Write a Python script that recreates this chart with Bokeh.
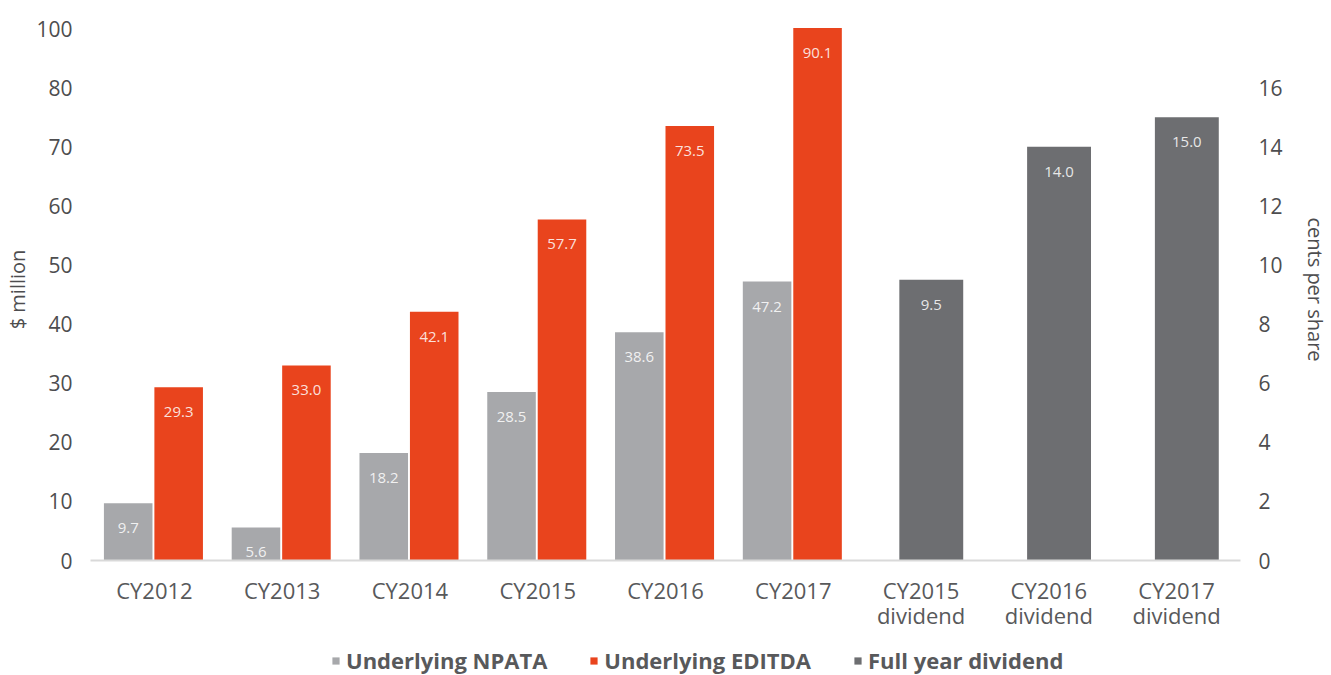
from bokeh.plotting import figure
from bokeh.layouts import column
from bokeh.models import (ColumnDataSource, FactorRange, Range1d, LinearAxis, FixedTicker,
                          Legend, LegendItem)
from bokeh.transform import dodge
from bokeh.core.properties import value
from bokeh.embed import file_html
from bokeh.resources import INLINE

# ---- data ----
years = ["CY2012", "CY2013", "CY2014", "CY2015", "CY2016", "CY2017"]
npata = [9.7, 5.6, 18.2, 28.5, 38.6, 47.2]
ebitda = [29.3, 33.0, 42.1, 57.7, 73.5, 90.1]
div_cats = ["CY2015\ndividend", "CY2016\ndividend", "CY2017\ndividend"]
dividend = [9.5, 14.0, 15.0]
left_ticks = [0, 10, 20, 30, 40, 50, 60, 70, 80, 90]
left_tick_labels = ["0", "10", "20", "30", "40", "50", "60", "70", "80", "100"]
right_ticks = [0, 2, 4, 6, 8, 10, 12, 14, 16]
series_names = ["Underlying NPATA", "Underlying EDITDA", "Full year dividend"]

FONT = "Open Sans"
C_NPATA = "#a7a8ab"
C_EBITDA = "#e9441d"
C_DIV = "#6d6e71"
C_TEXT = "#4d4d4f"

src_y = ColumnDataSource(dict(cat=years, npata=npata, ebitda=ebitda,
                              npata_l=[f"{v:.1f}" for v in npata],
                              ebitda_l=[f"{v:.1f}" for v in ebitda]))
src_d = ColumnDataSource(dict(cat=div_cats, div=dividend,
                              div_l=[f"{v:.1f}" for v in dividend]))

Y_END = 91.7
p = figure(width=1331, height=640, x_range=FactorRange(*(years + div_cats), range_padding=0),
           y_range=Range1d(0, Y_END), output_backend="svg", toolbar_location=None,
           min_border_left=90, min_border_right=83, min_border_top=18, min_border_bottom=80)
p.extra_y_ranges = {"right": Range1d(0, Y_END / 5)}
p.outline_line_color = None
p.grid.visible = False
p.background_fill_color = "white"
p.border_fill_color = "white"

r1 = p.vbar(x=dodge("cat", -0.205, range=p.x_range), top="npata", width=0.38,
            source=src_y, fill_color=C_NPATA, line_color=None)
r2 = p.vbar(x=dodge("cat", 0.19, range=p.x_range), top="ebitda", width=0.38,
            source=src_y, fill_color=C_EBITDA, line_color=None)
r3 = p.vbar(x=dodge("cat", 0.08, range=p.x_range), top="div", width=0.5,
            source=src_d, fill_color=C_DIV, line_color=None, y_range_name="right")

lbl = dict(text_font=value(FONT), text_font_size="15px", text_color="white", text_alpha=0.85,
           text_align="center", text_baseline="middle", y_offset=25)
p.text(x=dodge("cat", -0.205, range=p.x_range), y="npata", text="npata_l", source=src_y, **lbl)
p.text(x=dodge("cat", 0.19, range=p.x_range), y="ebitda", text="ebitda_l", source=src_y, **lbl)
p.text(x=dodge("cat", 0.08, range=p.x_range), y="div", text="div_l", source=src_d,
       y_range_name="right", **lbl)

# axes
xa = p.xaxis[0]
xa.axis_line_color = "#d9d9d9"
xa.axis_line_width = 2
xa.major_tick_line_color = None
xa.minor_tick_line_color = None
xa.major_label_standoff = 8
xa.major_label_text_font = FONT
xa.major_label_text_font_size = "22px"
xa.major_label_text_line_height = 0.85
xa.major_label_text_color = "#58595b"

ya = p.yaxis[0]
ya.ticker = FixedTicker(ticks=left_ticks)
ya.major_label_overrides = {t: s for t, s in zip(left_ticks, left_tick_labels)}
ya.axis_line_color = None
ya.major_tick_line_color = None
ya.minor_tick_line_color = None
ya.major_label_standoff = 12
ya.major_label_text_font = FONT
ya.major_label_text_font_size = "21px"
ya.major_label_text_color = C_TEXT
ya.axis_label = "$ million"
ya.axis_label_standoff = 2
ya.axis_label_text_font = FONT
ya.axis_label_text_font_size = "20px"
ya.axis_label_text_font_style = "normal"
ya.axis_label_text_color = C_TEXT

ra = LinearAxis(y_range_name="right", ticker=FixedTicker(ticks=right_ticks))
ra.axis_line_color = None
ra.major_tick_line_color = None
ra.minor_tick_line_color = None
ra.major_label_standoff = 12
ra.major_label_text_font = FONT
ra.major_label_text_font_size = "21px"
ra.major_label_text_color = C_TEXT
ra.axis_label = "cents per share"
ra.axis_label_standoff = 16
ra.axis_label_text_font = FONT
ra.axis_label_text_font_size = "20px"
ra.axis_label_text_font_style = "normal"
ra.axis_label_text_color = C_TEXT
p.add_layout(ra, "right")

# ---- legend strip ----
lg = figure(width=1331, height=35, x_range=Range1d(0, 1), y_range=Range1d(0, 1),
            output_backend="svg", toolbar_location=None,
            x_axis_location=None, y_axis_location=None,
            min_border_left=0, min_border_right=0, min_border_top=0, min_border_bottom=0)
lg.grid.visible = False
lg.outline_line_color = None
lr = [lg.quad(left=[-6], right=[-5], bottom=[-6], top=[-5], fill_color=c, line_color=None)
      for c in (C_NPATA, C_EBITDA, C_DIV)]
legend = Legend(items=[LegendItem(label=n, renderers=[r]) for n, r in zip(series_names, lr)],
                orientation="horizontal", location=(241, 0))
legend.label_text_font = FONT
legend.label_text_font_size = "22px"
legend.label_text_font_style = "bold"
legend.label_text_color = "#58595b"
legend.glyph_width = 9
legend.glyph_height = 9
legend.label_standoff = 6
legend.spacing = 42
legend.padding = 0
legend.margin = 0
legend.border_line_color = None
legend.background_fill_alpha = 0
lg.add_layout(legend, "center")

open("out.html", "w").write(file_html(column(p, lg, spacing=0), INLINE))
